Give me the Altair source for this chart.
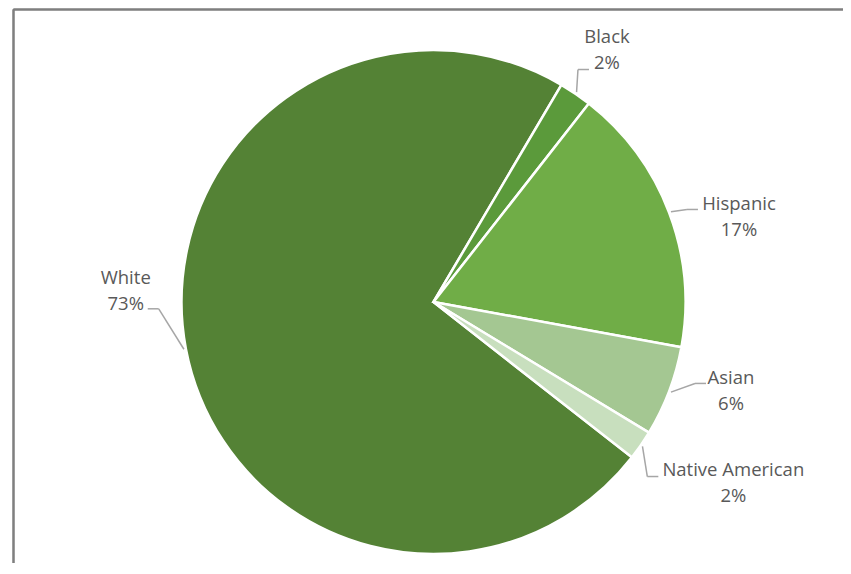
import math
import altair as alt
import pandas as pd

# ---- data ----
categories = ["White", "Black", "Hispanic", "Asian", "Native American"]
shares = [72.9, 2.1, 17.3, 5.8, 1.9]

# ---- style / layout ----
colors = ["#548235", "#5B9A3B", "#70AD47", "#A4C792", "#C8DFBE"]
label_nudge_x = [-13, 4.5, 25, 17, 53]
label_nudge_y = [-67, -4.6, 22, -17, 10]
attach_x = [22, -18, -41, -25, -75]
attach_y = [18, 20, -8, -8, -6]

W, H = 835, 555
CX, CY = 425.5, 294.0
R = 252
R_EDGE = 254
R_LAB = 300
START = math.radians(128.06)

df = pd.DataFrame({
    "idx": list(range(len(categories))),
    "cat": categories,
    "share": shares,
    "ndx": label_nudge_x,
    "ndy": label_nudge_y,
    "adx": attach_x,
    "ady": attach_y,
})

xs = alt.Scale(domain=[-CX, W - CX], nice=False, zero=False)
ys = alt.Scale(domain=[CY - H, CY], nice=False, zero=False)

base = alt.Chart(df).transform_joinaggregate(
    total="sum(share)"
).transform_window(
    cum="sum(share)", sort=[alt.SortField("idx")], frame=[None, 0]
).transform_calculate(
    mid=f"{START} + 2*PI*(datum.cum - datum.share/2)/datum.total"
).transform_calculate(
    px=f"{R_EDGE}*sin(datum.mid)",
    py=f"{R_EDGE}*cos(datum.mid)",
    lx=f"{R_LAB}*sin(datum.mid) + datum.ndx",
    ly=f"{R_LAB}*cos(datum.mid) - datum.ndy",
    label="datum.cat + '\\n' + format(round(datum.share), 'd') + '%'",
).transform_calculate(
    hx="datum.lx + datum.adx",
    hy="datum.ly - datum.ady",
).transform_calculate(
    ex="datum.hx - 11*(sin(datum.mid) > 0 ? 1 : -1)",
    ey="datum.hy",
)

arcs = alt.Chart(df).mark_arc(outerRadius=R, stroke="white", strokeWidth=2.5).encode(
    theta=alt.Theta("share:Q", stack=True,
                    scale=alt.Scale(range=[START, START + 2 * math.pi])),
    order=alt.Order("idx:Q"),
    color=alt.Color("cat:N", scale=alt.Scale(domain=categories, range=colors), legend=None),
    x=alt.datum(0, scale=xs, axis=None),
    y=alt.datum(0, scale=ys, axis=None),
)

lead1 = base.mark_rule(color="#A6A6A6", strokeWidth=1.5).encode(
    x=alt.X("px:Q", scale=xs, axis=None),
    y=alt.Y("py:Q", scale=ys, axis=None),
    x2="ex:Q",
    y2="ey:Q",
)
lead2 = base.mark_rule(color="#A6A6A6", strokeWidth=1.5).encode(
    x=alt.X("ex:Q", scale=xs, axis=None),
    y=alt.Y("ey:Q", scale=ys, axis=None),
    x2="hx:Q",
    y2="hy:Q",
)

labels = base.mark_text(
    lineBreak="\n", font="Open Sans", fontSize=18.5, color="#595959",
    align="center", baseline="middle", lineHeight=26, dy=-13,
).encode(
    x=alt.X("lx:Q", scale=xs, axis=None),
    y=alt.Y("ly:Q", scale=ys, axis=None),
    text="label:N",
)

border_left = alt.Chart(df).mark_rule(color="#7F7F7F", strokeWidth=1.5).encode(
    x=alt.value(5.5), y=alt.value(1.5), y2=alt.value(H)
)
border_top = alt.Chart(df).mark_rule(color="#7F7F7F", strokeWidth=1.5).encode(
    x=alt.value(5.5), x2=alt.value(W), y=alt.value(1.5)
)

chart = alt.layer(arcs, lead1, lead2, labels, border_left, border_top).properties(
    width=W, height=H, padding=0,
    autosize=alt.AutoSizeParams(type="none"),
).configure_view(stroke=None)

chart.save("out.html", embed_options={"renderer": "svg", "actions": False})
